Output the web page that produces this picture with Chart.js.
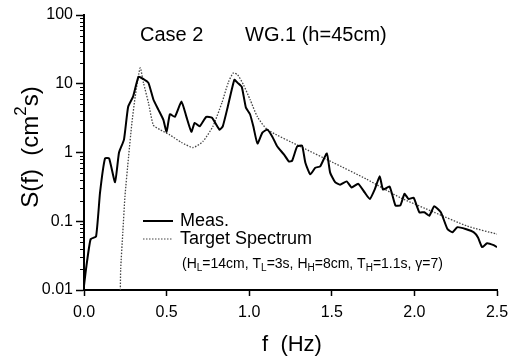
<!DOCTYPE html>
<html>
<head>
<meta charset="UTF-8">
<title>Case 2 WG.1 spectrum</title>
<script src="https://cdn.jsdelivr.net/npm/chart.js@4"></script>
<style>
  html, body { margin: 0; padding: 0; background: #fff; }
  #wrap { width: 509px; height: 358px; }
</style>
</head>
<body>
<div id="wrap"><canvas id="spec"></canvas></div>
<script>
// measured spectrum
const measF = [0.00, 0.012, 0.04, 0.073, 0.097, 0.127, 0.152, 0.188, 0.212, 0.242, 0.267, 0.297, 0.33, 0.358, 0.39,
  0.42, 0.45, 0.48, 0.50, 0.52, 0.55, 0.59, 0.62, 0.65, 0.67, 0.70, 0.74, 0.775, 0.82, 0.84, 0.87, 0.91, 0.93,
  0.955, 0.98, 1.005, 1.025, 1.05, 1.08, 1.11, 1.14, 1.17, 1.21, 1.24, 1.26, 1.29, 1.32, 1.34, 1.37, 1.40, 1.43,
  1.47, 1.49, 1.52, 1.55, 1.59, 1.62, 1.66, 1.70, 1.73, 1.76, 1.79, 1.81, 1.85, 1.885, 1.915, 1.94, 1.965, 1.995,
  2.03, 2.06, 2.09, 2.12, 2.16, 2.20, 2.23, 2.26, 2.31, 2.36, 2.385, 2.41, 2.44, 2.48, 2.50];
const measS = [0.0115, 0.020, 0.055, 0.060, 0.26, 0.82, 0.82, 0.37, 1.0, 1.54, 4.6, 6.5, 12.6, 11.8, 10.3,
  5.9, 4.2, 3.0, 2.0, 3.6, 3.3, 5.5, 3.3, 2.0, 2.7, 2.4, 3.3, 3.2, 2.15, 2.4, 4.6, 11.4, 10.3,
  9.0, 4.5, 3.6, 2.4, 1.35, 1.95, 2.15, 1.7, 1.22, 0.94, 0.74, 0.76, 1.22, 1.26, 0.71, 0.48, 0.60, 0.63,
  0.97, 0.51, 0.37, 0.34, 0.38, 0.31, 0.35, 0.26, 0.21, 0.29, 0.45, 0.29, 0.32, 0.17, 0.17, 0.25, 0.21, 0.22,
  0.135, 0.135, 0.12, 0.165, 0.135, 0.077, 0.069, 0.082, 0.077, 0.069, 0.058, 0.042, 0.048, 0.045, 0.042];

// target spectrum
const targetF = [0.22, 0.222, 0.235, 0.248, 0.27, 0.29, 0.31, 0.34, 0.36, 0.39, 0.42, 0.46, 0.52, 0.59, 0.66,
  0.72, 0.78, 0.835, 0.875, 0.905, 0.93, 0.965, 1.005, 1.05, 1.11, 1.31, 1.51, 1.71, 1.915, 2.12, 2.32, 2.50];
const targetS = [0.01, 0.02, 0.069, 0.23, 0.88, 2.7, 6.5, 17, 10.3, 5.3, 2.5, 2.15, 1.8, 1.4, 1.18,
  1.45, 2.4, 5.3, 10.7, 14.4, 13.5, 9.7, 5.9, 3.3, 2.15, 1.22, 0.71, 0.41, 0.22, 0.135, 0.085, 0.065];

const xTicks = [0, 0.5, 1.0, 1.5, 2.0, 2.5];
const yTicks = [0.01, 0.1, 1, 10, 100];
const yTickLabels = ['0.01', '0.1', '1', '10', '100'];

const FONT = 'Arial, "Liberation Sans", sans-serif';

function toPoints(xs, ys) {
  return xs.map((x, i) => ({ x: x, y: ys[i] }));
}

// text with sub/superscripts: parts = [[text, 'n'|'sub'|'sup'], ...]
function drawRich(ctx, parts, x, y, size) {
  let cx = x;
  parts.forEach(p => {
    const small = p[1] !== 'n';
    ctx.font = (small ? Math.round(size * 0.7) : size) + 'px ' + FONT;
    const dy = p[1] === 'sub' ? size * 0.3 : (p[1] === 'sup' ? -size * 0.4 : 0);
    ctx.fillText(p[0], cx, y + dy);
    cx += ctx.measureText(p[0]).width;
  });
  return cx - x;
}
function richWidth(ctx, parts, size) {
  let w = 0;
  parts.forEach(p => {
    ctx.font = (p[1] !== 'n' ? Math.round(size * 0.7) : size) + 'px ' + FONT;
    w += ctx.measureText(p[0]).width;
  });
  return w;
}

const decorations = {
  id: 'decorations',
  afterDraw(chart) {
    const ctx = chart.ctx;
    const xs = chart.scales.x, ys = chart.scales.y;
    ctx.save();
    ctx.fillStyle = '#000';
    ctx.strokeStyle = '#000';

    // minor log ticks on y axis
    ctx.lineWidth = 1;
    for (let d = 0.01; d < 100; d *= 10) {
      for (let k = 2; k <= 9; k++) {
        const py = Math.round(ys.getPixelForValue(d * k)) + 0.5;
        ctx.beginPath();
        ctx.moveTo(xs.left - 4, py);
        ctx.lineTo(xs.left, py);
        ctx.stroke();
      }
    }

    // title inside plot
    ctx.textBaseline = 'middle';
    ctx.textAlign = 'left';
    ctx.font = '20px ' + FONT;
    ctx.fillText('Case 2', 140, 35);
    ctx.fillText('WG.1 (h=45cm)', 245, 35);

    // legend
    const lx0 = 143, lx1 = 173;
    ctx.lineWidth = 2;
    ctx.setLineDash([]);
    ctx.beginPath(); ctx.moveTo(lx0, 221); ctx.lineTo(lx1, 221); ctx.stroke();
    ctx.lineWidth = 1.2;
    ctx.strokeStyle = '#444';
    ctx.setLineDash([1.5, 1.5]);
    ctx.beginPath(); ctx.moveTo(lx0, 239); ctx.lineTo(lx1, 239); ctx.stroke();
    ctx.setLineDash([]);
    ctx.font = '18px ' + FONT;
    ctx.fillText('Meas.', 180, 221);
    ctx.fillText('Target Spectrum', 180, 239);

    // wave parameters
    drawRich(ctx, [['(H', 'n'], ['L', 'sub'], ['=14cm, T', 'n'], ['L', 'sub'], ['=3s, H', 'n'], ['H', 'sub'],
      ['=8cm, T', 'n'], ['H', 'sub'], ['=1.1s, \u03b3=7)', 'n']], 182, 264, 14);

    // x title
    ctx.textAlign = 'center';
    ctx.font = '22px ' + FONT;
    ctx.fillText('f  (Hz)', 292, 345);

    // y title, rotated
    const yParts = [['S(f)  (cm', 'n'], ['2', 'sup'], ['s)', 'n']];
    const w = richWidth(ctx, yParts, 24);
    ctx.translate(31, 147);
    ctx.rotate(-Math.PI / 2);
    ctx.textAlign = 'left';
    drawRich(ctx, yParts, -w / 2, 0, 24);
    ctx.restore();
  }
};

const chart = new Chart(document.getElementById('spec'), {
  type: 'line',
  data: {
    datasets: [
      {
        label: 'Meas.',
        data: toPoints(measF, measS),
        borderColor: '#000',
        borderWidth: 2,
        pointRadius: 0,
        tension: 0.15
      },
      {
        label: 'Target Spectrum',
        data: toPoints(targetF, targetS),
        borderColor: '#444',
        borderWidth: 1.3,
        borderDash: [1.5, 1.5],
        pointRadius: 0,
        tension: 0.2
      }
    ]
  },
  options: {
    responsive: true,
    maintainAspectRatio: false,
    animation: false,
    events: [],
    layout: { padding: { left: 0, top: 15, right: 12, bottom: 0 } },
    plugins: { legend: { display: false }, tooltip: { enabled: false } },
    scales: {
      x: {
        type: 'linear',
        min: 0,
        max: 2.5,
        afterBuildTicks: s => { s.ticks = xTicks.map(v => ({ value: v })); },
        afterFit: s => { s.height = 68; s.paddingLeft = 0; s.paddingRight = 0; },
        ticks: {
          color: '#000',
          font: { size: 16, family: FONT },
          padding: 7,
          maxRotation: 0,
          callback: v => v.toFixed(1)
        },
        grid: { drawOnChartArea: false, tickLength: 6, color: '#000', tickWidth: 1.5 },
        border: { color: '#000', width: 2 }
      },
      y: {
        type: 'logarithmic',
        min: 0.01,
        max: 100,
        afterBuildTicks: s => { s.ticks = yTicks.map(v => ({ value: v })); },
        afterFit: s => { s.width = 84; s.paddingTop = 0; s.paddingBottom = 0; },
        ticks: {
          color: '#000',
          font: { size: 16, family: FONT },
          padding: 3,
          callback: v => yTickLabels[yTicks.indexOf(v)]
        },
        grid: { drawOnChartArea: false, tickLength: 8, color: '#000', tickWidth: 1.5 },
        border: { color: '#000', width: 2 }
      }
    }
  },
  plugins: [decorations]
});
</script>
</body>
</html>
